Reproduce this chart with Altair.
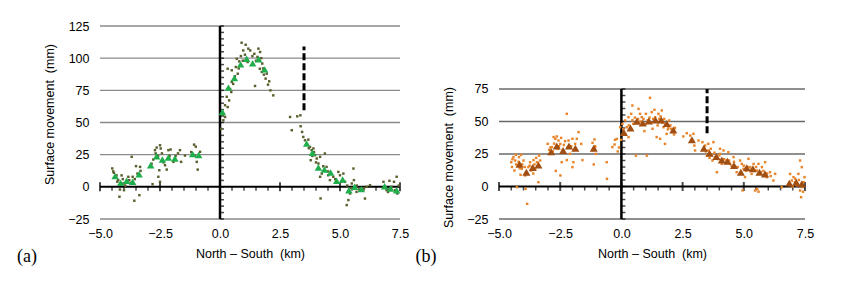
import altair as alt
import pandas as pd

# ---------------- data ----------------
# Panel (a): averaged values (triangles)
a_tri_x = [-4.37, -4.14, -3.89, -3.64, -3.37, -2.89, -2.64, -2.40, -2.15, -1.88, -1.14, -0.89,
           0.10, 0.35, 0.60, 0.86, 1.11, 1.36, 1.61, 1.86,
           3.61, 3.85, 4.10, 4.35, 4.61, 4.86, 5.11, 5.37, 5.61, 5.89, 6.86, 7.11, 7.36]
a_tri_y = [8.3, 3.1, 4.7, 3.9, 9.8, 16.8, 23.8, 21.2, 22.8, 22.0, 25.4, 24.8,
           58.2, 77.1, 84.6, 95.2, 99.6, 96.0, 99.1, 91.3,
           33.7, 26.4, 15.0, 13.5, 11.2, 4.7, 5.7, -2.6, 0.0, -1.8, 0.5, -1.3, -2.6]

# Panel (a): individual measurements (dots)
a_dot_x = [-4.49, -4.42, -4.31, -4.24, -4.17, -4.19, -4.10, -4.03, -4.00, -3.82, -3.78, -3.68, -3.64,
           -3.57, -3.50, -3.44, -3.36, -3.33, -3.31, -2.78, -2.71, -2.64, -2.50, -2.47, -2.53, -2.57,
           -2.81, -2.50, -2.29, -2.22, -2.15, -2.06, -1.94, -1.67, -1.62, -1.46, -1.08, -1.01, -0.97,
           -0.93, -0.83, -4.45, -4.28, -4.05, -3.95, -3.72, -3.55, -2.85, -2.68, -2.58, -2.42, -2.35,
           -2.10, -1.85, -1.75, -1.20, -1.05,
           0.90, 1.07, 0.97, 1.18, 1.26, 1.43, 1.60, 1.67, 1.56, 1.76, 1.83, 1.90, 2.00, 2.10, 2.22,
           1.46, 0.21, 0.14, 0.21, 0.32, 0.38, 0.47, 0.49, 0.32, 0.49, 0.66, 0.80, 0.74, 0.87, 0.70,
           1.04, 1.35, 1.66, 1.74, 2.92, 3.22, 3.35, 0.05, 0.12, 0.55, 0.62, 0.95, 1.15, 1.50, 1.80,
           1.95, 2.05, 0.28, 0.42, 0.78, 1.72,
           2.99, 3.36, 3.42, 3.47, 3.54, 3.68, 3.75, 3.82, 3.89, 3.96, 4.03, 3.78, 4.10, 4.17, 4.24,
           4.17, 4.37, 4.44, 4.51, 4.58, 4.72, 4.93, 5.00, 5.14, 5.21, 5.49, 5.56, 5.58, 5.42, 5.35,
           5.28, 5.69, 6.04, 6.11, 6.25, 4.19, 6.81, 7.06, 7.25, 7.36, 7.39, 7.29, 6.94, 3.70, 3.85,
           3.92, 4.00, 4.30, 4.50, 4.80, 5.05, 5.30, 5.45, 5.70, 5.80, 6.00, 7.15, 7.45, 7.00]
a_dot_y = [14.3, 10.9, 8.9, 5.2, -2.1, -7.7, 8.9, 2.6, -2.6, 7.8, 5.2, 23.3, 7.8,
           -10.8, 16.1, 10.3, -6.5, 15.5, 12.4, 21.2, 28.5, 30.5, 32.3, 29.8, 12.9, 7.8,
           2.1, 3.9, 16.8, 13.4, 28.5, 29.0, 19.4, 28.5, 19.4, 24.3, 32.8, 31.2, 19.4,
           13.4, 27.2, 12.0, 4.0, 6.0, 1.0, 3.0, 6.0, 18.0, 26.0, 24.0, 26.0, 19.0,
           24.0, 24.0, 26.0, 27.0, 24.0,
           112.0, 110.4, 106.0, 107.4, 106.0, 103.4, 107.4, 104.8, 101.0, 95.8, 87.2, 84.1, 79.4, 75.0, 71.1,
           78.4, 63.4, 51.7, 54.3, 62.0, 67.2, 73.7, 81.5, 91.8, 90.6, 93.1, 97.5, 87.9, 101.6, 99.5,
           102.7, 101.6, 91.8, 89.3, 54.3, 54.8, 55.6, 45.0, 56.0, 80.0, 86.0, 98.0, 97.0, 98.0, 92.0,
           88.0, 82.0, 70.0, 76.0, 92.0, 100.0,
           44.0, 47.1, 42.7, 38.8, 36.2, 36.7, 31.0, 28.5, 29.8, 24.6, 22.0, 20.7, 18.1, 23.3, 10.3,
           7.8, 25.9, 15.5, 9.0, 5.2, 7.8, 11.6, 9.0, 10.3, 3.9, 2.6, 14.2, 5.2, -5.2, -10.3,
           -14.2, -3.9, -9.1, 0.0, 1.3, -9.0, 3.9, 4.7, 3.9, 7.8, -5.2, -2.6, -2.6, 30.0, 24.0,
           27.0, 19.0, 16.0, 12.0, 6.0, 4.0, 1.0, -1.0, 1.0, -2.0, -1.0, 0.0, 1.0, -4.0]

# Panel (b): averaged values (triangles)
b_tri_x = [-4.16, -3.88, -3.62, -3.39, -2.87, -2.64, -2.38, -2.14, -1.88, -1.13,
           0.10, 0.37, 0.63, 0.87, 1.12, 1.39, 1.63, 1.85, 2.12, 2.88, 3.37, 3.60, 3.88, 4.10,
           4.33, 4.60, 4.88, 5.12, 5.37, 5.64, 5.87, 6.86, 7.14, 7.37]
b_tri_y = [17.2, 11.0, 14.6, 16.5, 26.8, 31.2, 27.7, 31.2, 29.4, 29.4,
           41.6, 45.0, 50.2, 48.9, 50.4, 51.2, 51.2, 48.5, 43.4, 36.0, 29.4, 25.6, 23.1, 20.4,
           19.5, 16.2, 11.0, 14.4, 13.6, 11.0, 9.7, 2.6, 3.3, 2.1]

# Panel (b): individual measurements (dots)
b_dot_x = [-4.50, -4.47, -4.41, -4.37, -4.34, -4.31, -4.24, -4.18, -4.10, -4.07, -4.00, -3.93, -3.91,
           -3.85, -3.80, -3.73, -3.69, -3.59, -3.52, -3.45, -3.36, -3.32, -3.39, -4.27,
           -3.01, -2.95, -2.91, -2.84, -2.77, -2.70, -2.64, -2.57, -2.50, -2.46, -2.44, -2.49, -2.30,
           -2.23, -2.16, -2.10, -2.00, -1.96, -1.89, -1.82, -1.75, -1.64, -2.00, -1.59, -1.18, -1.10,
           -1.07, -1.13, -1.05, -0.60, -0.59, -0.37, -0.28, -0.26, -2.23,
           -4.45, -4.30, -4.20, -4.15, -4.05, -3.95, -3.90, -3.75, -3.65, -3.55, -3.48, -2.90, -2.80,
           -2.75, -2.60, -2.55, -2.40, -2.35, -2.20, -2.05, -1.95, -1.15, -1.08, -4.12, -3.60, -2.68,
           -0.19, -0.01, -0.05, 0.04, 0.15, 0.22, 0.29, 0.29, 0.40, 0.45, 0.49, 0.59, 0.70, 0.76, 0.83,
           0.94, 1.00, 1.04, 1.17, 1.24, 1.27, 1.35, 1.38, 1.44, 1.51, 1.58, 1.65, 1.72, 1.78, 1.85,
           1.92, 1.95, 2.03, 2.19, 2.53, 2.67, 2.81, 2.94, 2.98, 3.01, 3.15, 3.31, 3.42, 3.55, 3.55,
           3.76, 3.83, 3.90, 4.03, 4.10,
           0.08, 0.18, 0.30, 0.45, 0.55, 0.62, 0.68, 0.78, 0.90, 0.98, 1.08, 1.15, 1.20, 1.30, 1.42,
           1.48, 1.55, 1.60, 1.68, 1.75, 1.80, 1.90, 2.00, 2.10, 2.15, 3.45, 3.50, 3.60, 3.65, 3.70,
           3.72, 3.80, 3.95, 4.00, -0.10, -0.15,
           3.89, 4.03, 4.17, 4.30, 4.37, 4.44, 4.58, 4.65, 4.71, 4.85, 4.92, 4.99, 5.05, 5.19, 5.26,
           5.32, 5.40, 5.46, 5.53, 5.60, 5.74, 5.87, 5.94, 6.07, 6.21, 6.28, 6.55, 6.89, 6.96, 7.03,
           7.09, 7.16, 7.23, 7.30, 7.30, 7.34, 7.40, 7.44, 7.48, 7.37,
           4.20, 4.25, 4.40, 4.50, 4.60, 4.75, 4.90, 5.00, 5.10, 5.15, 5.30, 5.45, 5.50, 5.70, 5.80,
           5.95, 6.10, 6.90, 7.00, 7.10, 7.20, 7.25, 7.35, 7.42, 4.95, 5.55, 5.60]
b_dot_y = [18.7, 15.0, 22.6, 12.3, 20.0, 24.4, 16.2, 22.6, 24.4, 13.6, 20.0, 8.5, -1.8,
           -13.3, 14.9, 18.7, 12.3, 20.3, 13.6, 18.7, 23.8, 20.0, 3.3, -0.5,
           32.8, 28.2, 25.1, 30.3, 38.0, 36.7, 38.5, 35.4, 32.8, 37.4, 18.7, 8.5, 34.9,
           20.3, 35.4, 25.1, 36.7, 18.7, 32.8, 36.7, 41.8, 32.8, 14.9, 20.3, 33.6, 36.2,
           31.0, 17.0, 25.1, 18.7, 5.9, 30.3, 32.3, 35.9, 55.9,
           21.0, 17.0, 19.0, 14.0, 17.0, 15.0, 11.0, 16.0, 15.0, 17.0, 22.0, 30.0, 27.0,
           33.0, 29.0, 31.0, 28.0, 32.0, 30.0, 31.0, 28.0, 28.0, 30.0, 9.0, 10.0, 12.0,
           36.6, 35.9, 45.6, 48.2, 50.8, 45.6, 53.3, 38.0, 55.9, 62.3, 48.2, 23.8, 59.7, 55.9, 53.3,
           42.6, 55.9, 23.8, 68.2, 57.2, 44.4, 59.0, 53.3, 38.0, 55.9, 36.7, 58.5, 45.6, 32.8, 40.5,
           45.6, 50.8, 44.4, 45.1, 38.5, 41.0, 39.2, 40.5, 31.5, 27.7, 35.4, 34.1, 31.5, 32.8, 27.7,
           34.1, 22.6, 11.0, 29.0, 17.4,
           44.0, 40.0, 47.0, 51.0, 53.0, 49.0, 52.0, 50.0, 52.0, 48.0, 51.0, 53.0, 49.0, 52.0, 50.0,
           47.0, 52.0, 54.0, 49.0, 52.0, 47.0, 44.0, 47.0, 42.0, 40.0, 27.0, 24.0, 22.0, 29.0, 24.0,
           20.0, 26.0, 21.0, 24.0, 30.0, 27.0,
           22.6, 25.1, 27.7, 20.0, 26.4, 17.4, 22.6, 14.9, 11.0, 20.0, 17.4, 13.6, 7.2, 21.3, 14.9,
           9.7, 17.4, -3.1, 12.3, 17.4, 14.9, 18.7, 7.2, 11.0, 4.6, 9.7, -0.5, 9.7, 4.6, 7.2,
           3.3, 0.8, 9.7, 20.0, -3.1, -8.2, -0.5, 3.3, 7.2, 14.9,
           21.0, 18.0, 20.0, 16.0, 19.0, 15.0, 10.0, 16.0, 12.0, 15.0, 13.0, 12.0, 15.0, 11.0, 12.0,
           10.0, 8.0, 1.0, 0.0, 6.0, 2.0, 5.0, 1.0, -4.0, -3.0, -2.0, -4.0]

x_label_values = [-5.0, -2.5, 0.0, 2.5, 5.0, 7.5]
a_y_labels = [-25, 0, 25, 50, 75, 100, 125]
b_y_labels = [-25, 0, 25, 50, 75]
a_grid = [-25, 25, 50, 75, 100, 125]
b_grid = [-25, 25, 50, 75]
x_minor = [-4.5, -4.0, -3.5, -3.0, -2.0, -1.5, -1.0, -0.5, 0.5, 1.0, 1.5, 2.0, 3.0, 3.5, 4.0, 4.5,
           5.5, 6.0, 6.5, 7.0]
a_y_minor = list(range(-25, 126, 5))
b_y_minor = list(range(-25, 76, 5))
a_dash = [59.5, 109.0]
b_dash = [41.0, 75.0]

FONT = "Liberation Sans"
FS = 12.5
X_TITLE = "North \u2013 South\u00a0 (km)"
Y_TITLE = "Surface movement\u00a0 (mm)"


def panel(dot_x, dot_y, tri_x, tri_y, y_top, y_labels, grid_vals, y_minor, dash,
          dot_color, tri_color, grid_color, label, width, height, tri_size, title_y):
    xs = alt.Scale(domain=[-5, 7.5], nice=False, zero=False)
    ys = alt.Scale(domain=[-25, y_top], nice=False, zero=False)
    xa = alt.Axis(
        values=x_label_values, format=".1f", domain=False, ticks=False, tickSize=0,
        grid=False, labelPadding=8, labelFlush=False, labelOverlap=False,
        title=X_TITLE, titlePadding=8,
        labelFont=FONT, titleFont=FONT, labelFontSize=FS, titleFontSize=FS,
        titleFontWeight="normal", labelColor="black", titleColor="black")
    ya = alt.Axis(
        values=y_labels, domain=False, ticks=False, tickSize=0, grid=False,
        labelPadding=11, labelFlush=False, labelOverlap=False,
        title=Y_TITLE, titlePadding=11, titleY=title_y,
        labelFont=FONT, titleFont=FONT, labelFontSize=FS, titleFontSize=FS,
        titleFontWeight="normal", labelColor="black", titleColor="black")

    def X(f):
        return alt.X(f, scale=xs, axis=xa)

    def Y(f):
        return alt.Y(f, scale=ys, axis=ya)

    grid = alt.Chart(pd.DataFrame({"v": grid_vals})).mark_rule(
        color=grid_color, strokeWidth=1.4
    ).encode(y=Y("v:Q"))

    zero_line = alt.Chart(pd.DataFrame({"x": [-5.0], "x2": [7.5], "y": [0.0]})).mark_rule(
        color="black", strokeWidth=2
    ).encode(x=X("x:Q"), x2="x2:Q", y=Y("y:Q"))

    v_line = alt.Chart(pd.DataFrame({"x": [0.0], "y": [-25.0], "y2": [float(y_labels[-1])]})).mark_rule(
        color="black", strokeWidth=2.5
    ).encode(x=X("x:Q"), y=Y("y:Q"), y2="y2:Q")

    x_major = alt.Chart(pd.DataFrame({"v": x_label_values, "z": [0.0] * len(x_label_values)})).mark_tick(
        orient="vertical", size=9, thickness=2, color="black"
    ).encode(x=X("v:Q"), y=Y("z:Q"))

    x_min = alt.Chart(pd.DataFrame({"v": x_minor, "z": [0.0] * len(x_minor)})).mark_tick(
        orient="vertical", size=4, thickness=1.5, color="black", yOffset=2
    ).encode(x=X("v:Q"), y=Y("z:Q"))

    y_min = alt.Chart(pd.DataFrame({"v": y_minor, "z": [0.0] * len(y_minor)})).mark_tick(
        orient="horizontal", size=4, thickness=1.5, color="black", xOffset=2
    ).encode(y=Y("v:Q"), x=X("z:Q"))

    dash_line = alt.Chart(pd.DataFrame({"x": [3.5], "y": [dash[0]], "y2": [dash[1]]})).mark_rule(
        color="black", strokeWidth=3, strokeDash=[7, 3]
    ).encode(x=X("x:Q"), y=Y("y:Q"), y2="y2:Q")

    dots = alt.Chart(pd.DataFrame({"x": dot_x, "y": dot_y})).mark_square(
        size=6, color=dot_color, opacity=1
    ).encode(x=X("x:Q"), y=Y("y:Q"))

    tris = alt.Chart(pd.DataFrame({"x": tri_x, "y": tri_y})).mark_point(
        shape="triangle-up", filled=True, size=tri_size, color=tri_color, opacity=1
    ).encode(x=X("x:Q"), y=Y("y:Q"))

    tag = alt.Chart(pd.DataFrame({"t": [label]})).mark_text(
        font="Liberation Serif", fontSize=18, color="black", align="center", baseline="middle"
    ).encode(text="t:N", x=alt.value(-73), y=alt.value(231))

    return alt.layer(grid, zero_line, v_line, x_major, x_min, y_min, dash_line, dots, tris, tag
                     ).properties(width=width, height=height)


H = 193
left = panel(a_dot_x, a_dot_y, a_tri_x, a_tri_y, 125, a_y_labels, a_grid, a_y_minor, a_dash,
             "#5b5f2e", "#1fae4c", "#8a8a8a", "(a)", 300, H, 55, 88)
right = panel(b_dot_x, b_dot_y, b_tri_x, b_tri_y, round(-25 + H / 1.3, 2), b_y_labels, b_grid, b_y_minor,
              b_dash, "#e8842a", "#a04e12", "#6a6a6a", "(b)", 306, H, 65, 131)

chart = alt.hconcat(left, right, spacing=99, bounds="flush").properties(
    padding={"left": 9, "top": 12, "right": 5, "bottom": 5}
).configure_view(stroke=None)

chart.save("out.html", embed_options={"renderer": "svg", "actions": False})
